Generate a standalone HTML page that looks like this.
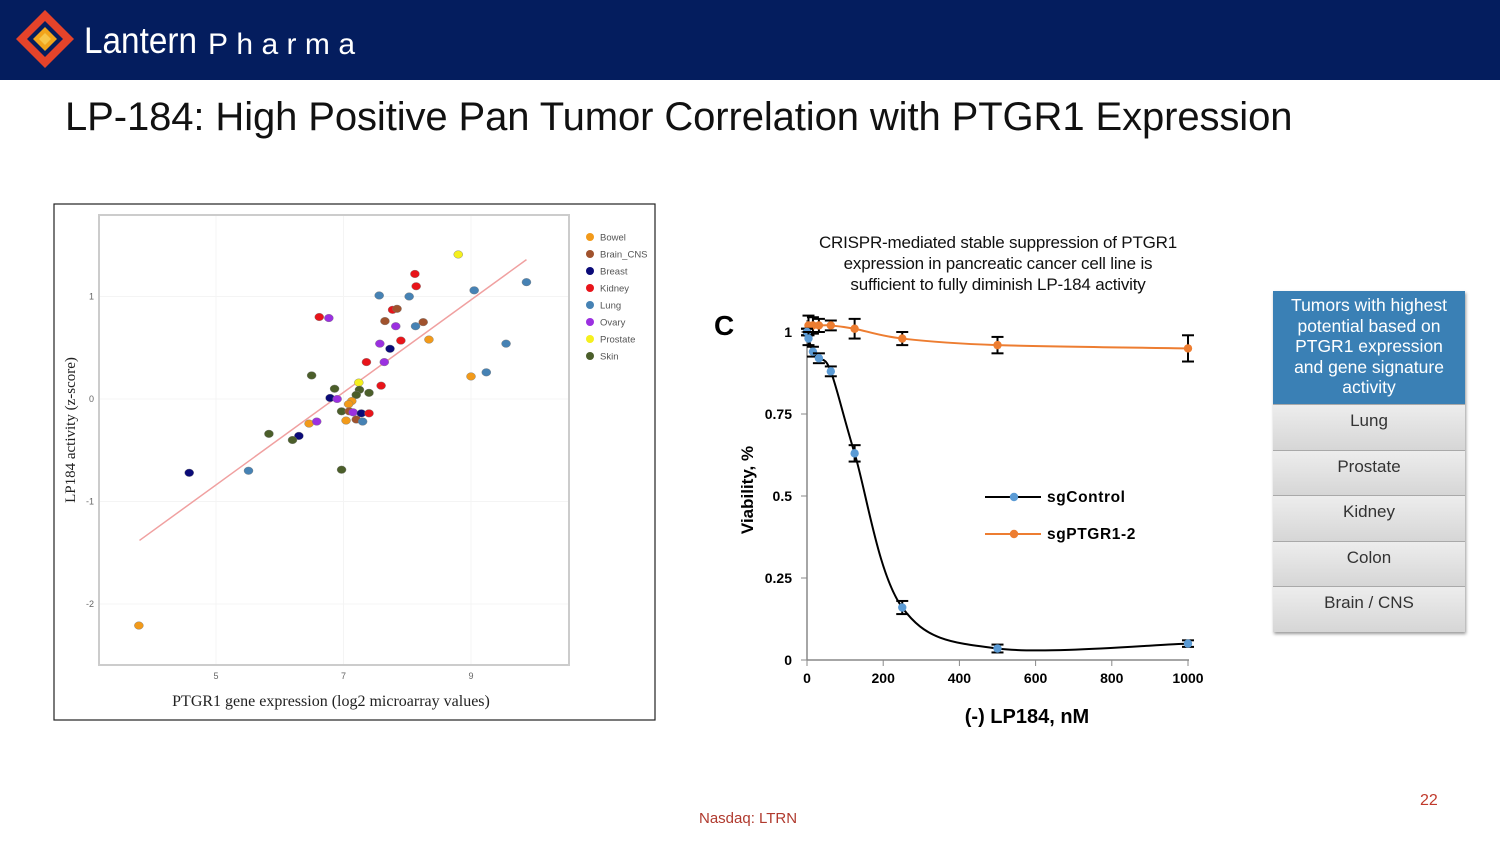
<!DOCTYPE html>
<html><head><meta charset="utf-8">
<style>
body{margin:0;width:1500px;height:843px;position:relative;background:#fff;font-family:"Liberation Sans",sans-serif;overflow:hidden}
.hdr{position:absolute;left:0;top:0;width:1500px;height:80px;background:#041d5e}
.title{position:absolute;left:65px;top:95px;font-size:40px;color:#111;letter-spacing:-0.1px}
.tbl{position:absolute;left:1273px;top:291px;width:192px;box-shadow:1px 2px 3px #999}
.th{background:#3a80b5;color:#fff;text-align:center;font-size:17.5px;line-height:20.5px;height:113px;padding:4px 14px 0;box-sizing:border-box}
.tr{height:45.6px;background:linear-gradient(#ededed,#d6d6d6);border-top:1px solid #a9a9a9;text-align:center;font-size:17px;color:#333;box-sizing:border-box;padding-top:6px}
</style></head><body>
<div class="hdr">
<svg width="380" height="80">
<polygon points="45,10 74,39 45,68 16,39" fill="#e5432a"/>
<polygon points="45,21 63,39 45,57 27,39" fill="#041d5e"/>
<polygon points="45,27 57,39 45,51 33,39" fill="#f1a41b"/>
<polygon points="45,33 51,39 45,45 39,39" fill="#f7c64a"/>
<text x="84" y="53" font-size="37" fill="#fff" textLength="113" lengthAdjust="spacingAndGlyphs">Lantern</text>
<text x="208" y="54" font-size="30" fill="#fff" textLength="147" lengthAdjust="spacing">Pharma</text>
</svg></div>
<div class="title">LP-184: High Positive Pan Tumor Correlation with PTGR1 Expression</div>

<svg id="sc" style="position:absolute;left:0;top:0" width="1500" height="843"></svg>

<div class="tbl">
<div class="th">Tumors with highest potential based on PTGR1 expression and gene signature activity</div>
<div class="tr">Lung</div>
<div class="tr">Prostate</div>
<div class="tr">Kidney</div>
<div class="tr">Colon</div>
<div class="tr">Brain / CNS</div>
</div>
<div style="position:absolute;left:699px;top:810px;font-size:15px;color:#b03a2e">Nasdaq: LTRN</div>
<div style="position:absolute;left:1420px;top:792px;font-size:16px;color:#c0392b">22</div>

<script>
// ---- scatter data ----
const catNames=["Bowel","Brain_CNS","Breast","Kidney","Lung","Ovary","Prostate","Skin"];
const catColors=["#f29a1a","#a0522d","#0a0a78","#e8141a","#4682b4","#9b30e0","#f5f01e","#4b5e2a"];
const ptX=[8.80,8.12,8.14,7.56,8.03,9.05,9.87,7.77,7.84,6.62,6.77,7.65,7.82,8.13,8.25,8.34,7.90,7.57,7.73,9.55,7.36,7.64,6.50,9.00,9.24,7.24,7.59,6.86,7.25,7.40,7.20,6.79,6.90,7.13,7.08,6.97,7.09,7.15,7.28,7.40,7.20,7.30,7.04,6.46,6.58,5.83,6.30,6.20,5.51,4.58,6.97,3.79];
const ptY=[1.41,1.22,1.10,1.01,1.00,1.06,1.14,0.87,0.88,0.80,0.79,0.76,0.71,0.71,0.75,0.58,0.57,0.54,0.49,0.54,0.36,0.36,0.23,0.22,0.26,0.16,0.13,0.10,0.09,0.06,0.04,0.01,0.00,-0.02,-0.05,-0.12,-0.12,-0.13,-0.14,-0.14,-0.20,-0.22,-0.21,-0.24,-0.22,-0.34,-0.36,-0.40,-0.70,-0.72,-0.69,-2.21];
const ptCat=[6,3,3,4,4,4,4,3,1,3,5,1,5,4,1,0,3,5,2,4,3,5,7,0,4,6,3,7,7,7,7,2,5,0,0,7,1,5,2,3,1,4,0,0,5,7,2,7,4,2,7,0];
const fitX=[3.80,9.87], fitY=[-1.38,1.36];
const scXTicks=[5,7,9], scYTicks=[1,0,-1,-2];
// ---- dose response data ----
const doses=[0,3.9,15.6,31.25,62.5,125,250,500,1000];
const ctrl=[1.0,0.98,0.94,0.92,0.88,0.63,0.16,0.035,0.05];
const ctrlErr=[0.01,0.02,0.015,0.015,0.015,0.025,0.02,0.012,0.01];
const ptgr=[1.0,1.02,1.02,1.02,1.02,1.01,0.98,0.96,0.95];
const ptgrErr=[0.01,0.03,0.025,0.02,0.015,0.03,0.02,0.025,0.04];
const drXTicks=[0,200,400,600,800,1000], drYTicks=[0,0.25,0.5,0.75,1];
const drYLabels=["0","0.25","0.5","0.75","1"];

const NS="http://www.w3.org/2000/svg";
const svg=document.getElementById('sc');
function mk(t,a,p){const e=document.createElementNS(NS,t);for(const k in a)e.setAttribute(k,a[k]);(p||svg).appendChild(e);return e;}

// scatter
const sx=v=>216+(v-5)*63.75, sy=v=>399-v*102.5;
let e=mk('rect',{x:54,y:204,width:601,height:516,fill:'#fff',stroke:'#222','stroke-width':1.2});

e=mk('rect',{x:99,y:215,width:470,height:450,fill:'#fff',stroke:'#ccc','stroke-width':2});

scXTicks.forEach(t=>{mk('line',{x1:sx(t),x2:sx(t),y1:216,y2:664,stroke:'#f4f4f4'});
 e=mk('text',{x:sx(t),y:679,'font-size':9,fill:'#666','text-anchor':'middle'});e.textContent=t;
 });
scYTicks.forEach(t=>{mk('line',{x1:100,x2:568,y1:sy(t),y2:sy(t),stroke:'#f4f4f4'});
 e=mk('text',{x:94,y:sy(t)+3,'font-size':9,fill:'#666','text-anchor':'end'});e.textContent=t;
 });
e=mk('line',{x1:sx(fitX[0]),y1:sy(fitY[0]),x2:sx(fitX[1]),y2:sy(fitY[1]),stroke:'#f0a0a0','stroke-width':1.5});

ptX.forEach((x,i)=>{e=mk('ellipse',{cx:sx(x),cy:sy(ptY[i]),rx:4.5,ry:3.8,fill:catColors[ptCat[i]],stroke:'#777','stroke-width':0.4});
 });
catNames.forEach((n,i)=>{const y=237+i*17;
 e=mk('circle',{cx:590,cy:y,r:4,fill:catColors[i]});
 e=mk('text',{x:600,y:y+3.5,'font-size':9.5,fill:'#555'});e.textContent=n;});
e=mk('text',{x:331,y:706,'font-size':16,fill:'#222','text-anchor':'middle','font-family':'Liberation Serif,serif'});
e.textContent='PTGR1 gene expression (log2 microarray values)';
e=mk('text',{x:0,y:0,'font-size':15,fill:'#222','text-anchor':'middle','font-family':'Liberation Serif,serif',transform:'translate(75,430) rotate(-90)'});
e.textContent='LP184 activity (z-score)';

// dose response
const dx=v=>807+v*0.381, dy=v=>660-v*328;
['CRISPR-mediated stable suppression of PTGR1','expression in pancreatic cancer cell line is','sufficient to fully diminish LP-184 activity'].forEach((t,i)=>{
 e=mk('text',{x:998,y:248+i*21,'font-size':17,fill:'#111','text-anchor':'middle','letter-spacing':'-0.2'});e.textContent=t;
 });
e=mk('text',{x:714,y:335,'font-size':28,'font-weight':'bold',fill:'#000'});e.textContent='C';
e=mk('line',{x1:807,y1:320,x2:807,y2:660,stroke:'#888','stroke-width':1.5});
e=mk('line',{x1:807,y1:660,x2:1189,y2:660,stroke:'#888','stroke-width':1.5});
drYTicks.forEach((t,i)=>{mk('line',{x1:801,x2:807,y1:dy(t),y2:dy(t),stroke:'#888'});
 e=mk('text',{x:792,y:dy(t)+5,'font-size':14,'font-weight':'bold','text-anchor':'end'});e.textContent=drYLabels[i];
 });
drXTicks.forEach(t=>{mk('line',{x1:dx(t),x2:dx(t),y1:660,y2:666,stroke:'#888'});
 e=mk('text',{x:dx(t),y:683,'font-size':14,'font-weight':'bold','text-anchor':'middle'});e.textContent=t;
 });
e=mk('text',{x:1027,y:723,'font-size':20,'font-weight':'bold','text-anchor':'middle'});e.textContent='(-) LP184, nM';

e=mk('text',{x:0,y:0,'font-size':17,'font-weight':'bold','text-anchor':'middle',transform:'translate(753,490) rotate(-90)'});e.textContent='Viability, %';

function smooth(xs,ys){const P=xs.map((x,i)=>[dx(x),dy(ys[i])]);let d='M'+P[0];
 for(let i=0;i<P.length-1;i++){const p0=P[Math.max(0,i-1)],p1=P[i],p2=P[i+1],p3=P[Math.min(P.length-1,i+2)];
  const t=0.5/3;d+=' C'+(p1[0]+(p2[0]-p0[0])*t)+','+(p1[1]+(p2[1]-p0[1])*t)+' '+(p2[0]-(p3[0]-p1[0])*t)+','+(p2[1]-(p3[1]-p1[1])*t)+' '+p2;}
 return d;}
function series(vals,errs,lc,name){
 e=mk('path',{d:smooth(doses,vals),fill:'none',stroke:lc,'stroke-width':2});
 doses.forEach((d,i)=>{const x=dx(d),y1=dy(vals[i]+errs[i]),y2=dy(vals[i]-errs[i]);
  const g=mk('g',{stroke:'#000','stroke-width':2});
  mk('line',{x1:x,x2:x,y1:y1,y2:y2},g);mk('line',{x1:x-6,x2:x+6,y1:y1,y2:y1},g);mk('line',{x1:x-6,x2:x+6,y1:y2,y2:y2},g);
  e=mk('circle',{cx:x,cy:dy(vals[i]),r:4.2,fill:lc=='#000'?'#5b9bd5':'#ed7d31'});});
}
series(ptgr,ptgrErr,'#ed7d31','sgptgr1');
series(ctrl,ctrlErr,'#000','sgcontrol');
[['sgControl','#000','#5b9bd5',497],['sgPTGR1-2','#ed7d31','#ed7d31',534]].forEach(l=>{
 e=mk('line',{x1:985,x2:1041,y1:l[3],y2:l[3],stroke:l[1],'stroke-width':2});
 e=mk('circle',{cx:1014,cy:l[3],r:4.2,fill:l[2]});
 e=mk('text',{x:1047,y:l[3]+5,'font-size':15.5,'font-weight':'bold','letter-spacing':'0.6'});e.textContent=l[0];});
</script>
</body></html>
